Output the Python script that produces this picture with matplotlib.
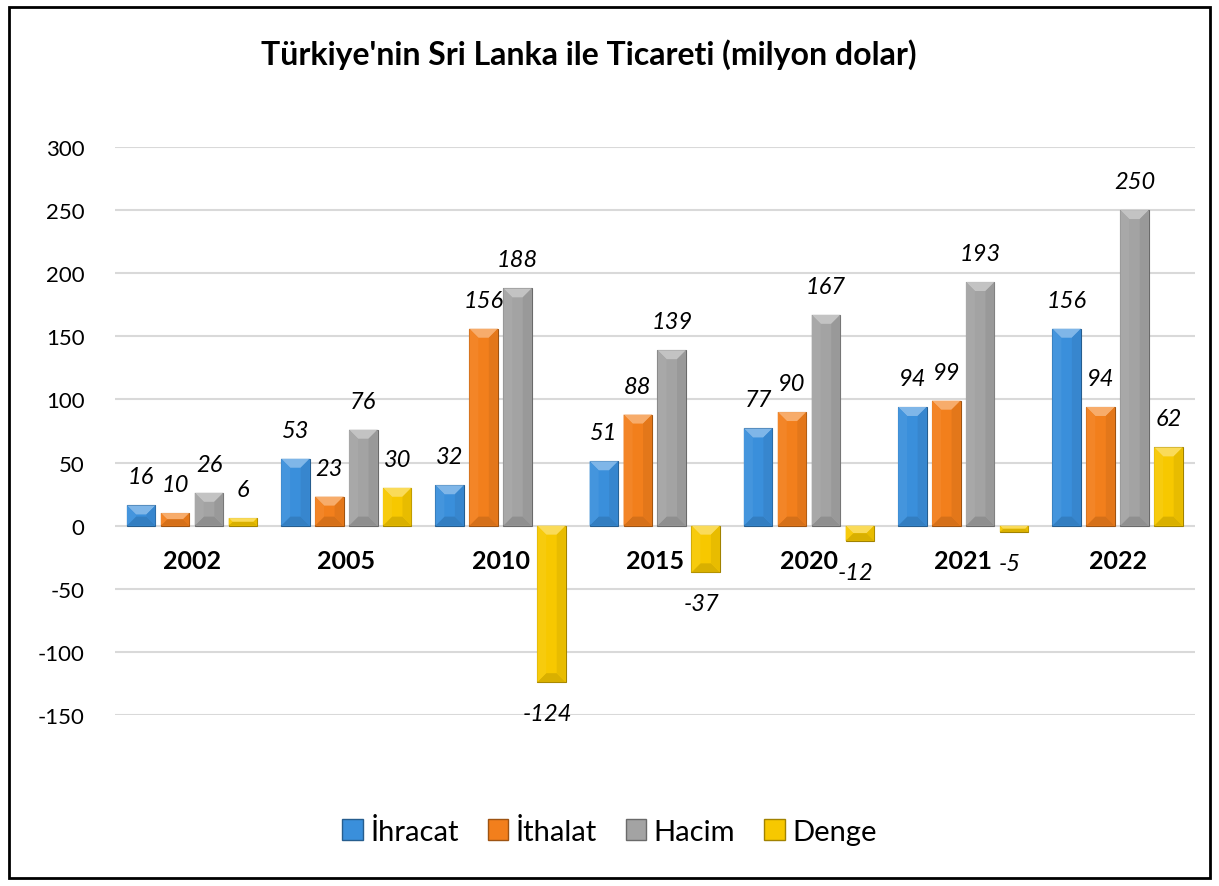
import numpy as np
import matplotlib
matplotlib.use("Agg")
import matplotlib.pyplot as plt
from matplotlib.patches import Polygon, Rectangle
from matplotlib.colors import to_rgb

# --------------------------- Data ---------------------------
years = ['2002', '2005', '2010', '2015', '2020', '2021', '2022']
ihracat = [16, 53, 32, 51, 77, 94, 156]
ithalat = [10, 23, 156, 88, 90, 99, 94]
hacim = [26, 76, 188, 139, 167, 193, 250]
denge = [6, 30, -124, -37, -12, -5, 62]

series_names = ['İhracat', 'İthalat', 'Hacim', 'Denge']
series_colors = ['#3A8FDB', '#F27F1C', '#A3A3A3', '#F7C800']

plt.rcParams['font.family'] = ['Lato', 'DejaVu Sans']
plt.rcParams['axes.unicode_minus'] = False


def shade(color, f):
    r, g, b = to_rgb(color)
    if f > 0:
        return (r + (1 - r) * f, g + (1 - g) * f, b + (1 - b) * f)
    return (r * (1 + f), g * (1 + f), b * (1 + f))


fig = plt.figure(figsize=(12.19, 8.87), dpi=100)
ax = fig.add_axes([0.0943, 0.1928, 0.8857, 0.6404])

x = np.arange(len(years))
step = 0.22
width = 0.185
ax.set_xlim(-0.5, len(years) - 0.5)
ax.set_ylim(-150, 300)

all_series = [ihracat, ithalat, hacim, denge]
bars_all = []
for i, (vals, col) in enumerate(zip(all_series, series_colors)):
    pos = x + (i - 1.5) * step
    bars = ax.bar(pos, vals, width, color=col, edgecolor=shade(col, -0.35),
                  linewidth=0.8, zorder=3, label=series_names[i])
    bars_all.append(bars)
    for b, v in zip(bars, vals):
        if v >= 0:
            ax.annotate(str(v), (b.get_x() + b.get_width() / 2, v),
                        xytext=(0, 13), textcoords='offset points',
                        ha='center', va='bottom', fontsize=17, style='italic')
        else:
            ax.annotate(str(v), (b.get_x() + b.get_width() / 2, v),
                        xytext=(-3, -15), textcoords='offset points',
                        ha='center', va='top', fontsize=17, style='italic')

# simple bevel: lighter top facet, slightly darker bottom facet
to_disp = ax.transData
to_data = ax.transData.inverted()
for bars, col in zip(bars_all, series_colors):
    for b in bars:
        x0, y0 = to_disp.transform((b.get_x(), b.get_y()))
        x1, y1 = to_disp.transform((b.get_x() + b.get_width(), b.get_y() + b.get_height()))
        top, bot = max(y0, y1), min(y0, y1)
        d = min(9, (top - bot) / 2, (x1 - x0) / 2)
        if d <= 0:
            continue
        up = [(x0, top), (x1, top), (x1 - d, top - d), (x0 + d, top - d)]
        dn = [(x0, bot), (x1, bot), (x1 - d, bot + d), (x0 + d, bot + d)]
        lf = [(x0, top), (x0 + d, top - d), (x0 + d, bot + d), (x0, bot)]
        rt = [(x1, top), (x1 - d, top - d), (x1 - d, bot + d), (x1, bot)]
        for pts, f in [(up, 0.35), (dn, -0.12), (lf, 0.05), (rt, -0.06)]:
            ax.add_patch(Polygon(to_data.transform(pts), closed=True,
                                 facecolor=shade(col, f), edgecolor='none', zorder=3.5))

# category labels sitting just under the zero line
for xi, yr in zip(x, years):
    ax.annotate(yr, (xi, 0), xytext=(0, -25), textcoords='offset points',
                ha='center', va='center', fontsize=18, fontweight='bold')

ax.set_yticks(np.arange(-150, 301, 50))
ax.tick_params(axis='y', length=0, pad=22, labelsize=16)
ax.set_xticks([])
ax.grid(axis='y', color='#D9D9D9', linewidth=1.5, zorder=0)
for s in ax.spines.values():
    s.set_visible(False)

fig.text(0.483, 0.938, "Türkiye'nin Sri Lanka ile Ticareti (milyon dolar)",
         ha='center', va='center', fontsize=23, fontweight='bold')

handles = [Rectangle((0, 0), 1, 1, facecolor=c, edgecolor=shade(c, -0.35)) for c in series_colors]
fig.legend(handles, series_names, loc='center', bbox_to_anchor=(0.5, 0.062), ncol=4,
           frameon=False, fontsize=21, handlelength=0.7, handleheight=0.7,
           handletextpad=0.25, columnspacing=1.0)

# outer border
fig.patches.append(Rectangle((0.007, 0.009), 0.986, 0.982, transform=fig.transFigure,
                             fill=False, edgecolor='black', linewidth=2))

plt.savefig('out.png', dpi=100)
